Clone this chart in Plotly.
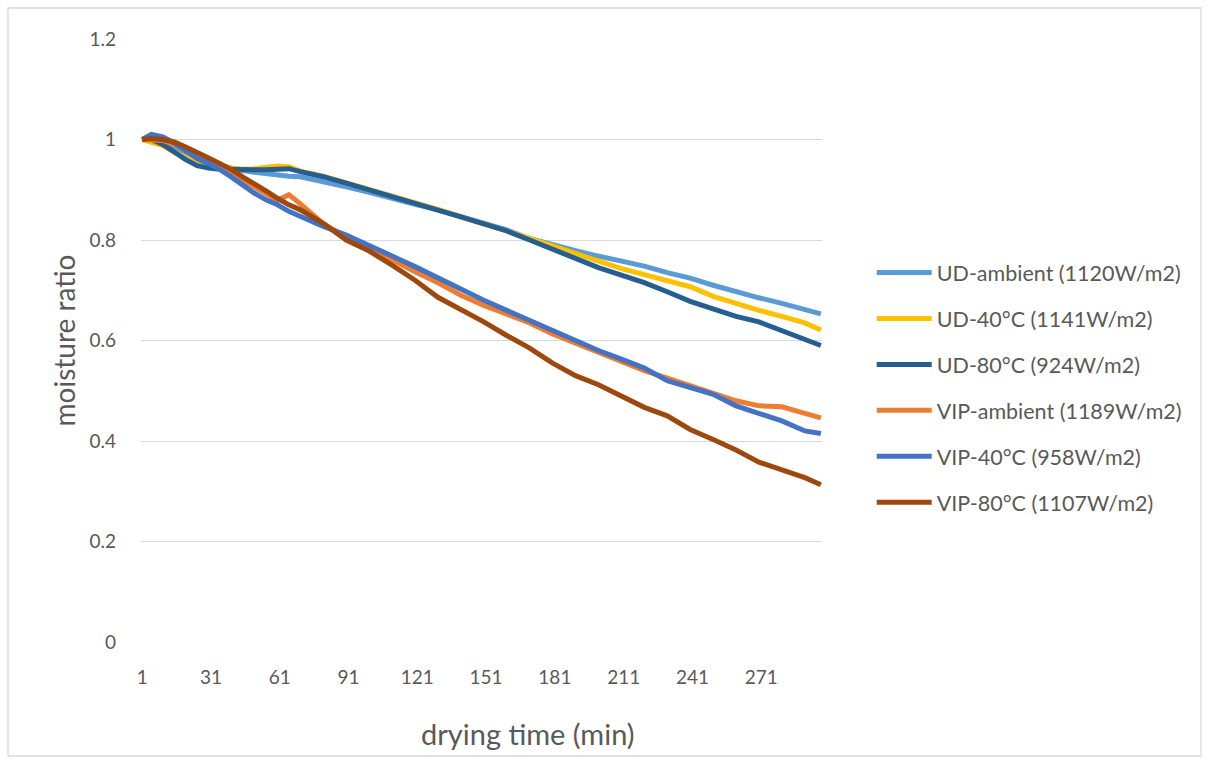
import plotly.graph_objects as go

# drying time (min) at which moisture ratio was sampled
time_min = [1, 5, 10, 15, 20, 25, 30, 35, 40, 45, 50, 55, 60, 65, 70,
            80, 90, 100, 110, 120, 130, 140, 150, 160, 170, 180, 190, 200,
            210, 220, 230, 240, 250, 260, 270, 280, 290, 297]

ud_ambient = [1.0, 1.005, 0.995, 0.985, 0.972, 0.962, 0.953, 0.948, 0.942, 0.938, 0.935, 0.932, 0.929, 0.927, 0.926,
              0.917, 0.906, 0.895, 0.882, 0.871, 0.86, 0.846, 0.833, 0.82, 0.803, 0.79, 0.779, 0.768,
              0.759, 0.748, 0.735, 0.724, 0.71, 0.697, 0.685, 0.674, 0.662, 0.653]

ud_40 = [1.0, 0.995, 0.988, 0.975, 0.963, 0.953, 0.948, 0.945, 0.942, 0.941, 0.942, 0.945, 0.947, 0.946, 0.937,
         0.927, 0.914, 0.9, 0.886, 0.874, 0.861, 0.846, 0.833, 0.818, 0.803, 0.788, 0.772, 0.758,
         0.743, 0.731, 0.718, 0.707, 0.688, 0.673, 0.66, 0.648, 0.635, 0.621]

ud_80 = [1.0, 1.0, 0.99, 0.975, 0.96, 0.948, 0.943, 0.941, 0.94, 0.94, 0.94, 0.94, 0.941, 0.942, 0.936,
         0.926, 0.913, 0.9, 0.886, 0.873, 0.86, 0.846, 0.832, 0.818, 0.8, 0.782, 0.765, 0.745,
         0.73, 0.715, 0.697, 0.678, 0.663, 0.648, 0.637, 0.62, 0.603, 0.59]

vip_ambient = [1.0, 1.0, 0.998, 0.99, 0.98, 0.97, 0.958, 0.945, 0.932, 0.918, 0.905, 0.893, 0.879, 0.89, 0.872,
               0.832, 0.805, 0.785, 0.76, 0.737, 0.715, 0.69, 0.67, 0.652, 0.635, 0.613, 0.595, 0.577,
               0.557, 0.54, 0.525, 0.51, 0.497, 0.48, 0.47, 0.468, 0.455, 0.446]

vip_40 = [1.0, 1.01, 1.005, 0.993, 0.978, 0.962, 0.952, 0.94, 0.925, 0.908, 0.893, 0.88, 0.87, 0.857, 0.847,
          0.827, 0.81, 0.79, 0.768, 0.747, 0.724, 0.703, 0.68, 0.66, 0.64, 0.62, 0.598, 0.58,
          0.563, 0.545, 0.52, 0.507, 0.493, 0.47, 0.455, 0.44, 0.42, 0.415]

vip_80 = [1.0, 1.002, 1.0, 0.995, 0.985, 0.975, 0.963, 0.952, 0.94, 0.925, 0.912, 0.898, 0.883, 0.87, 0.86,
          0.833, 0.8, 0.778, 0.75, 0.72, 0.686, 0.662, 0.637, 0.61, 0.585, 0.555, 0.53, 0.512,
          0.49, 0.467, 0.45, 0.423, 0.403, 0.382, 0.358, 0.342, 0.327, 0.313]

series_names = ["UD-ambient (1120W/m2)", "UD-40°C (1141W/m2)", "UD-80°C (924W/m2)",
                "VIP-ambient (1189W/m2)", "VIP-40°C (958W/m2)", "VIP-80°C (1107W/m2)"]
series_values = [ud_ambient, ud_40, ud_80, vip_ambient, vip_40, vip_80]
series_colors = ["#5B9BD5", "#FFC000", "#255E91", "#ED7D31", "#4472C4", "#9E480E"]

x_ticks = [1, 31, 61, 91, 121, 151, 181, 211, 241, 271]
y_ticks = [0, 0.2, 0.4, 0.6, 0.8, 1.0, 1.2]

FONT = "Lato, Carlito, 'Liberation Sans', sans-serif"
GREY_TEXT = "#595959"
GRID = "#D9D9D9"

fig = go.Figure()
for i, (name, vals, col) in enumerate(zip(series_names, series_values, series_colors)):
    fig.add_trace(go.Scatter(
        x=time_min, y=vals, name=name, mode="lines",
        line=dict(color=col, width=5, shape="linear"),
        legendgroup=f"g{i}",
    ))

fig.update_layout(
    width=1210, height=760,
    margin=dict(l=141, r=388, t=39, b=118),
    paper_bgcolor="white", plot_bgcolor="white",
    font=dict(family=FONT, color=GREY_TEXT, size=19),
    showlegend=True,
    legend=dict(
        x=1.073, xanchor="left", y=0.422, yanchor="middle",
        font=dict(family=FONT, size=21.5, color=GREY_TEXT),
        tracegroupgap=15, itemwidth=55,
        bgcolor="rgba(0,0,0,0)",
    ),
    xaxis=dict(
        range=[0.5, 297.5], tickmode="array", tickvals=x_ticks,
        ticktext=[str(v) for v in x_ticks],
        showgrid=False, zeroline=False, showline=False,
        ticks="", ticklabelstandoff=22,
        tickfont=dict(family=FONT, size=19, color=GREY_TEXT),
    ),
    yaxis=dict(
        range=[0, 1.2], tickmode="array", tickvals=y_ticks,
        ticktext=["0", "0.2", "0.4", "0.6", "0.8", "1", "1.2"],
        showgrid=True, gridcolor=GRID, gridwidth=1.3, zeroline=False, showline=False,
        ticks="", ticklabelstandoff=24,
        tickfont=dict(family=FONT, size=19, color=GREY_TEXT),
    ),
)

# axis titles
fig.add_annotation(text="moisture ratio", xref="paper", yref="paper",
                   x=(63 - 141) / 681, y=0.5, textangle=-90, showarrow=False,
                   xanchor="center", yanchor="middle",
                   font=dict(family=FONT, size=28, color=GREY_TEXT))
fig.add_annotation(text="drying time (min)", xref="paper", yref="paper",
                   x=(528 - 141) / 681, y=(642 - 733) / 603, showarrow=False,
                   xanchor="center", yanchor="middle",
                   font=dict(family=FONT, size=29, color=GREY_TEXT))

# outer chart border
fig.add_shape(type="rect", xref="paper", yref="paper",
              x0=(8 - 141) / 681, x1=(1201 - 141) / 681,
              y0=(642 - 756) / 603, y1=(642 - 8) / 603,
              line=dict(color=GRID, width=1.3), fillcolor="rgba(0,0,0,0)", layer="below")

fig.write_html("out.html")
